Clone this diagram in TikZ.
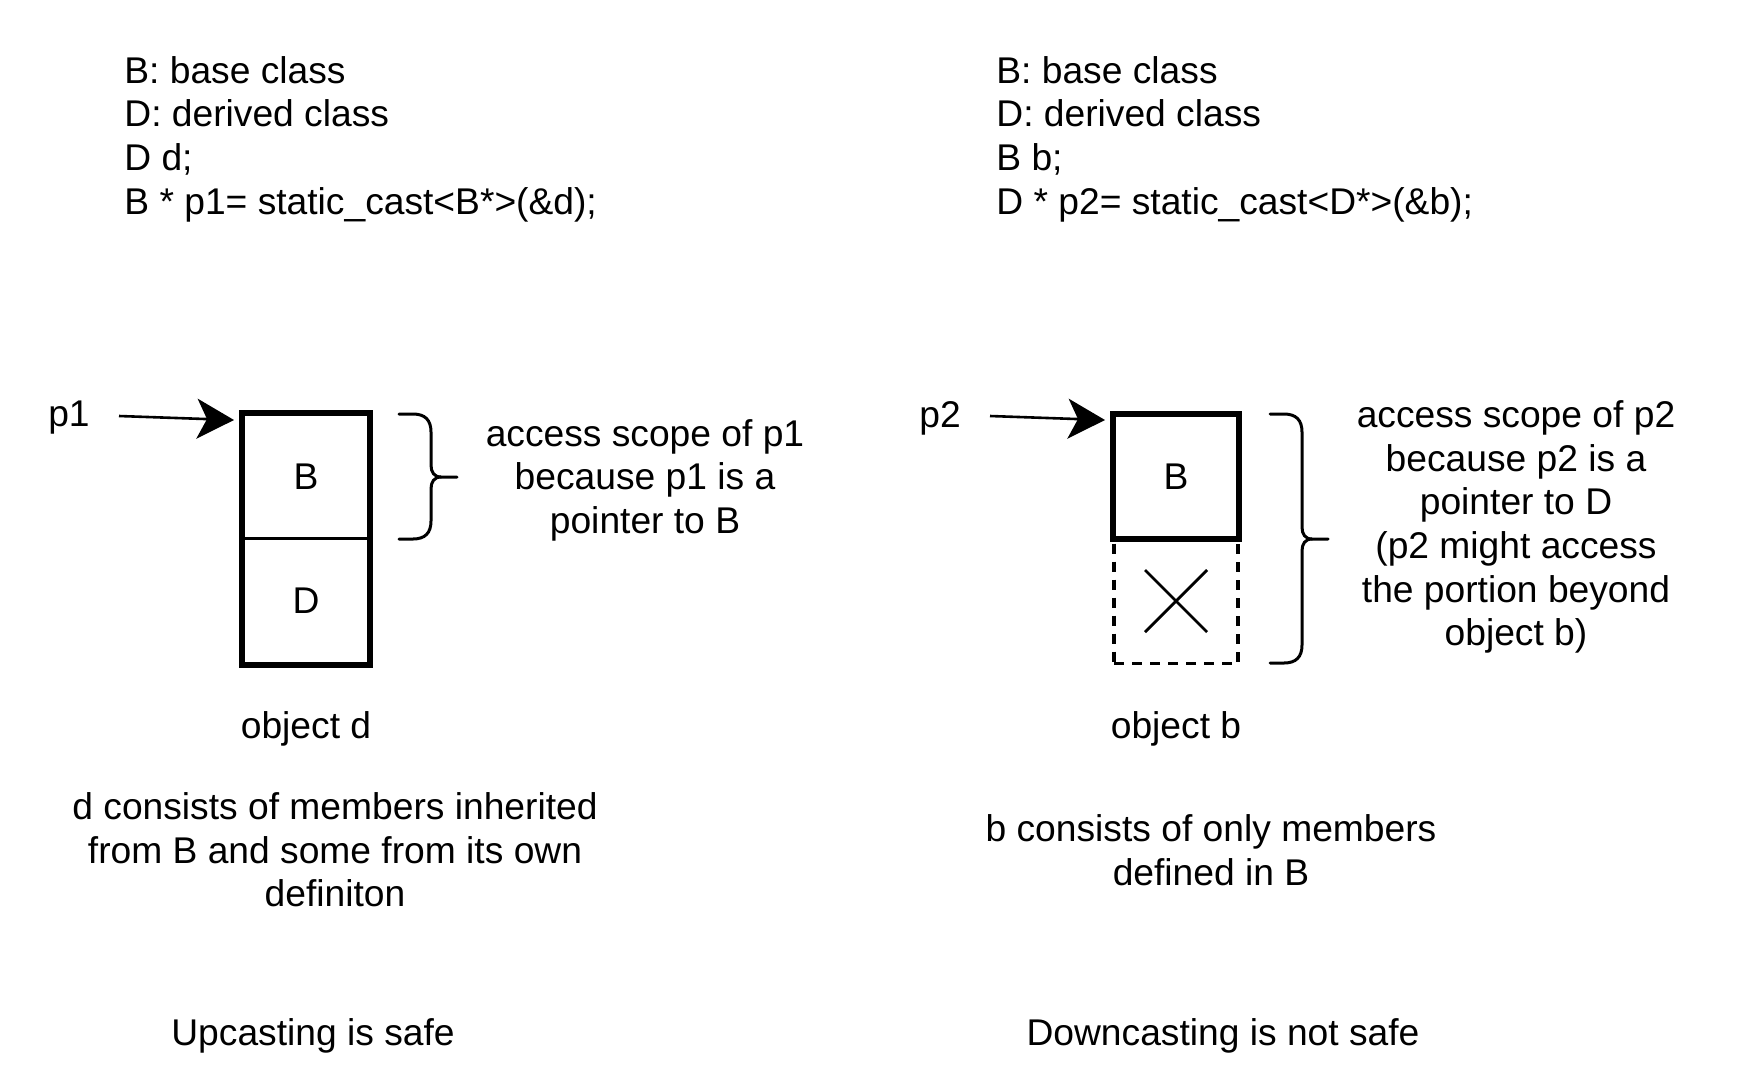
\documentclass[tikz,border=0pt]{standalone}
\usepackage{fontspec}
\setmainfont{Liberation Sans}
\usetikzlibrary{arrows.meta,calc}
\begin{document}
\begin{tikzpicture}[x=0.5pt,y=-0.5pt,
  txt/.style={font={\fontsize{18.6}{21.8}\selectfont}, inner sep=0pt, align=center},
  thickbox/.style={draw, line width=2.8pt, minimum width=63pt, minimum height=62.5pt, inner sep=0pt, font={\fontsize{18.6}{21.8}\selectfont}},
  thinbox/.style={draw, line width=1.2pt, minimum width=63pt, minimum height=62.5pt, inner sep=0pt, font={\fontsize{18.6}{21.8}\selectfont}},
  dashbox/.style={draw, line width=1.6pt, dash pattern=on 5pt off 4pt, minimum width=62pt, minimum height=62.5pt, inner sep=0pt},
  ptr/.style={line width=1.3pt, -{Stealth[length=18.5pt, width=20pt, inset=5pt]}},
  bracestyle/.style={line width=1.5pt, line cap=round},
  cross/.style={line width=1.4pt}]
\fill[white] (0,0) rectangle (1739,1089);
\useasboundingbox (0,0) rectangle (1739,1089);

% ---------- left panel ----------
\node[txt, anchor=west, align=left] (codeL) at (124,139)
  {B: base class\\D: derived class\\D d;\\B * p1= static\_cast<B*>(\&d);};

\node[txt] (p1) at (69,418) {p1};
\coordinate (p1s) at (119,416);
\coordinate (p1e) at (234,420);
\draw[ptr] (p1s) -- (p1e);

\node[thinbox] (lB) at (306,476.5) {B};
\node[thinbox] (lD) at (306,601) {D};
\draw[line width=2.8pt] (lB.north west) rectangle (lD.south east);

\draw[bracestyle] (399,414) -- (413,414) .. controls (425,414) and (431,420) .. (431,432)
  -- (431,465) .. controls (431,472) and (434,477) .. (441,477) -- (457,477);
\draw[bracestyle] (399,539) -- (413,539) .. controls (425,539) and (431,533) .. (431,521)
  -- (431,489) .. controls (431,482) and (434,477) .. (441,477);

\node[txt] (accL) at (645,480) {access scope of p1\\because p1 is a\\pointer to B};
\node[txt] (objd) at (306,729) {object d};
\node[txt] (consL) at (335,850) {d consists of members inherited\\from B and some from its own\\definiton};
\node[txt] (upc) at (313,1036) {Upcasting is safe};

% ---------- right panel ----------
\node[txt, anchor=west, align=left] (codeR) at (996,139)
  {B: base class\\D: derived class\\B b;\\D * p2= static\_cast<D*>(\&b);};

\node[txt] (p2) at (940,418) {p2};
\coordinate (p2s) at (990,416);
\coordinate (p2e) at (1105,420);
\draw[ptr] (p2s) -- (p2e);

\node[dashbox] (rX) at (1176,601) {};
\draw[cross] ($(rX.center)+(-31,-31)$) -- ($(rX.center)+(31,31)$);
\draw[cross] ($(rX.center)+(-31,31)$) -- ($(rX.center)+(31,-31)$);
\node[thickbox, fill=white] (rB) at (1176,476.5) {B};

\draw[bracestyle] (1270,414) -- (1284,414) .. controls (1296,414) and (1302,420) .. (1302,432)
  -- (1302,527) .. controls (1302,534) and (1305,539) .. (1312,539) -- (1328,539);
\draw[bracestyle] (1270,663) -- (1284,663) .. controls (1296,663) and (1302,657) .. (1302,645)
  -- (1302,551) .. controls (1302,544) and (1305,539) .. (1312,539);

\node[txt] (accR) at (1516,527) {access scope of p2\\because p2 is a\\pointer to D\\(p2 might access\\the portion beyond\\object b)};
\node[txt] (objb) at (1176,729) {object b};
\node[txt] (consR) at (1211,850) {b consists of only members\\defined in B};
\node[txt] (downc) at (1223,1036) {Downcasting is not safe};
\end{tikzpicture}
\end{document}
